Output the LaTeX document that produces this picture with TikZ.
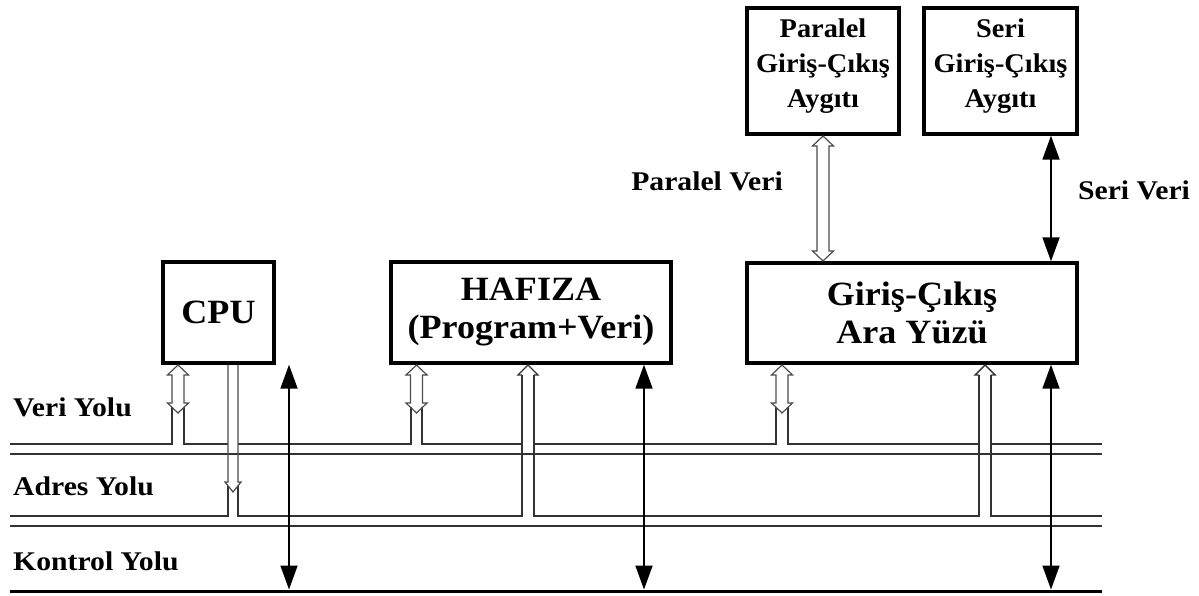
\documentclass[tikz,border=0pt]{standalone}
\usepackage{fontspec}
\setmainfont{Liberation Serif}
\newfontfamily\boxfont{Liberation Serif}[FakeStretch=1.06]
\newfontfamily\devfont{Liberation Serif}[FakeStretch=1.05]
\newfontfamily\busfont{Liberation Serif}[FakeStretch=1.1]
\usetikzlibrary{arrows.meta,calc}

\begin{document}
\begin{tikzpicture}[x=1pt,y=-1pt,
  box/.style={draw, line width=3.4pt, outer sep=0pt, inner sep=0pt, align=center,
    font=\boxfont\bfseries\fontsize{34}{38}\selectfont},
  smallbox/.style={box, text depth=16pt, font=\devfont\bfseries\fontsize{27}{35}\selectfont},
  lbl/.style={inner sep=0pt, font=\busfont\bfseries\fontsize{27}{30}\selectfont},
  bus/.style={line width=1.4pt, draw=black!80, line join=miter},
  pipe/.style={line width=1.2pt, draw=black!70, line join=miter},
  ctrl/.style={line width=1.8pt,
    {Triangle[length=24pt,width=17pt]}-{Triangle[length=24pt,width=17pt]}},
  % hollow two-way arrow, tip at the origin, pointing up and down, total length #1
  pics/dualhollow/.style={code={
    \draw[pipe] (0,0) -- (-10.5,10) -- (-6,10) -- (-6,#1-10) -- (-10.5,#1-10)
      -- (0,#1) -- (10.5,#1-10) -- (6,#1-10) -- (6,10) -- (10.5,10) -- cycle;
  }},
]
\useasboundingbox (0,0) rectangle (1199,596);

% units and devices
\node[box, minimum width=111pt, minimum height=101pt] (cpu) at (218.5,312.5) {CPU};
\node[box, minimum width=280pt, minimum height=101pt] (mem) at (531,312.5) {HAFIZA\\(Program+Veri)};
\node[box, minimum width=330pt, minimum height=100pt] (io) at (912,313) {Giriş-Çıkış\\Ara Yüzü};
\node[smallbox, minimum width=152pt, minimum height=126pt] (par) at (823,71) {Paralel\\Giriş-Çıkış\\Aygıtı};
\node[smallbox, minimum width=153pt, minimum height=126pt] (ser) at (1000.5,71) {Seri\\Giriş-Çıkış\\Aygıtı};

% bus and link labels
\node[lbl, anchor=west] (lv) at (13,407) {Veri Yolu};
\node[lbl, anchor=west] (la) at (13,486) {Adres Yolu};
\node[lbl, anchor=west] (lk) at (13,561) {Kontrol Yolu};
\node[lbl] (lpv) at (707,181) {Paralel Veri};
\node[lbl] (lsv) at (1134,190) {Seri Veri};

% bus levels
\coordinate (vbus) at (0,444);
\coordinate (abus) at (0,516);
\coordinate (kbus) at (0,589.5);

% data bus: upper line joins the data pipes
\draw[bus] (10,444) -| (172,407);
\draw[bus] (184,407) |- (228,444);
\draw[bus] (238,444) -| (411,407);
\draw[bus] (422,407) |- (522,444);
\draw[bus] (534,444) -| (776,407);
\draw[bus] (788,407) |- (979,444);
\draw[bus] (991,444) -- (1102,444);
\draw[bus] (10,454) -- (1102,454);

% address bus: upper line joins the address pipes
\draw[bus] (10,516) -| (228,486);
\draw[bus] (238,486) |- (522,516) -- (522,375);
\draw[bus] (534,375) |- (979,516) -- (979,375);
\draw[bus] (991,375) |- (1102,516);
\draw[bus] (10,526) -- (1102,526);

% control bus
\draw[line width=3pt] (10,591) -- (1102,591);

% data links
\pic at ($(cpu.south west)+(15,2)$) {dualhollow=48};
\pic at ($(mem.south west)+(25.5,2)$) {dualhollow=48};
\pic at ($(io.south west)+(35,2)$) {dualhollow=48};
\pic at ($(par.south)+(0,2)$) {dualhollow=125};

% address from CPU (downward head)
\draw[pipe] ($(cpu.south west)+(65,1.7)$) -- ++(0,117.3) -- ++(-3,0) -- ++(8,10) -- ++(8,-10)
  -- ++(-3,0) -- ++(0,-117.3);
% address into memory and interface (upward heads)
\draw[bus] ($(mem.south west)+(131,12)$) -- ++(-4,0) -- ++(10,-10) -- ++(10,10) -- ++(-4,0);
\draw[bus] ($(io.south west)+(232,12)$) -- ++(-4,0) -- ++(10,-10) -- ++(10,10) -- ++(-4,0);

% control links
\coordinate (c1) at ($(cpu.south)+(70.5,1.7)$);
\coordinate (c2) at ($(mem.south)+(113,1.7)$);
\coordinate (c3) at ($(io.south)+(139,1.7)$);
\draw[ctrl] (c1) -- (c1 |- kbus);
\draw[ctrl] (c2) -- (c2 |- kbus);
\draw[ctrl] (c3) -- (c3 |- kbus);

% serial link
\coordinate (s1) at ($(ser.south west)+(127,1.7)$);
\draw[ctrl] (s1) -- ($(s1 |- io.north)+(0,-1.7)$);
\end{tikzpicture}
\end{document}
